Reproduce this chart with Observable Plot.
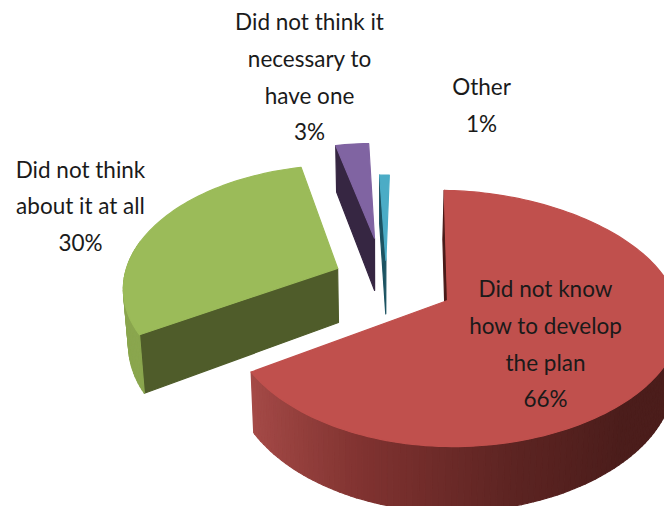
<!DOCTYPE html>
<html>
<head>
<meta charset="utf-8">
<script src="https://cdn.jsdelivr.net/npm/d3@7"></script>
<script src="https://cdn.jsdelivr.net/npm/@observablehq/plot@0.6"></script>
<style>
  html, body { margin: 0; padding: 0; background: #fff; overflow: hidden; }
</style>
</head>
<body>
<div id="chart"></div>
<script>
// Reasons for not having a plan, as shares of all respondents
const categories = [
  "Did not know\nhow to develop\nthe plan",
  "Did not think\nabout it at all",
  "Did not think it\nnecessary to\nhave one",
  "Other"
];
const shares = [66, 30, 3, 1];

// Exploded layout on the pie's ground plane, in units of one radius
const explodeU = [0, -0.524, -0.361, -0.297];
const explodeV = [0, 0.248, 0.52, 0.325];
const radii = [1, 1, 0.98, 0.824];

// Slice styling
const faceColors = ["#c0504d", "#9bbb59", "#8064a2", "#4bacc6"];
const edgeColors = ["#4a1a18", "#4f5c2a", "#362642", "#1c5362"];
const rimColors = [
  d3.scaleLinear().domain([-0.84, -0.33, 0.25, 0.7, 1]).range(["#a54a47", "#7f3230", "#5d2422", "#4b1d1b", "#4b1d1b"]),
  d3.scaleLinear().domain([-1, 1]).range(["#8aa64e", "#8aa64e"]),
  d3.scaleLinear().domain([-1, 1]).range(["#362642", "#362642"]),
  d3.scaleLinear().domain([-1, 1]).range(["#1c5362", "#1c5362"])
];
const drawOrder = [2, 3, 1, 0];

// Label anchors, middle of each text block
const labelX = [545, 80, 309, 481];
const labelY = [340, 202, 73, 101];

// Viewing model: perspective of the tilted disc
const originX = 447, originY = 300;
const spreadX = 217, spreadY = 125.5, recede = 0.1406;
const rightFlare = 0.06, roll = 4;
const thickness = 56, baseShrink = 0.98, vanishX = 380;

function project(u, v, lower) {
  const w = 1 + recede * v;
  const flare = u > 0 ? 1 + rightFlare * u : 1;
  const x = originX + spreadX * u * flare / w;
  const y = originY - spreadY * v / w + roll * u;
  return lower
    ? {x: vanishX + (x - vanishX) * baseShrink, y: y + thickness / w}
    : {x, y};
}

const arcs = d3.pie().sort(null)
  .startAngle(-Math.PI / 180)
  .endAngle(2 * Math.PI - Math.PI / 180)(shares);

const polygons = [];
function addPolygon(id, fill, pts) {
  [...pts, pts[0]].forEach((p) => polygons.push({id, fill, x: p.x, y: p.y}));
}

for (const i of drawOrder) {
  const {startAngle: a0, endAngle: a1} = arcs[i];
  const ou = explodeU[i], ov = explodeV[i], r = radii[i];
  const rim = (a) => [ou + r * Math.sin(a), ov + r * Math.cos(a)];

  // Cut edge on the clockwise-start side
  addPolygon(`edge-${i}`, edgeColors[i], [
    project(ou, ov, false),
    project(...rim(a0), false),
    project(...rim(a0), true),
    project(ou, ov, true)
  ]);

  // Curved outer wall, one narrow quad per step so the shading can vary
  const steps = d3.range(a0, a1, Math.PI / 120).concat(a1);
  d3.pairs(steps).forEach(([p, q], k) => {
    if (Math.cos(p) > 0.2 && Math.cos(q) > 0.2) return;
    addPolygon(`wall-${i}-${k}`, rimColors[i](Math.sin((p + q) / 2)), [
      project(...rim(p), false),
      project(...rim(q), false),
      project(...rim(q), true),
      project(...rim(p), true)
    ]);
  });

  // Top face
  addPolygon(`face-${i}`, faceColors[i], [
    project(ou, ov, false),
    ...steps.map((a) => project(...rim(a), false))
  ]);
}

const labels = categories.map((name, i) => ({
  text: `${name}\n${shares[i]}%`,
  x: labelX[i],
  y: labelY[i]
}));

const chart = Plot.plot({
  width: 664,
  height: 506,
  margin: 0,
  x: {domain: [0, 664], range: [0, 664], axis: null},
  y: {domain: [0, 506], range: [0, 506], axis: null},
  marks: [
    Plot.line(polygons, {
      x: "x", y: "y", z: "id",
      fill: "fill", stroke: "fill",
      strokeWidth: 1.2, curve: "linear"
    }),
    Plot.text(labels, {
      x: "x", y: "y", text: "text",
      fontFamily: "Lato, 'Open Sans', sans-serif",
      fontSize: 22.5,
      lineHeight: 1.63,
      fill: "#1a1a1a",
      textAnchor: "middle"
    })
  ]
});
document.getElementById("chart").appendChild(chart);
</script>
</body>
</html>
